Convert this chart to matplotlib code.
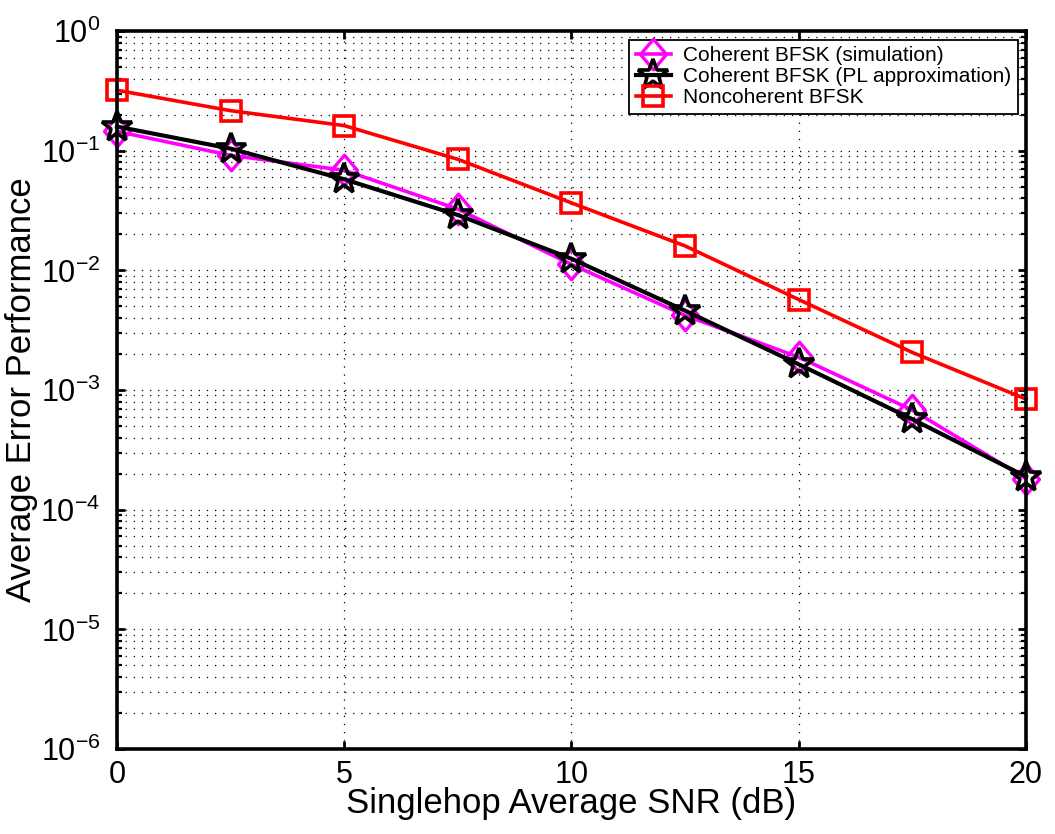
import numpy as np
import matplotlib
matplotlib.use("Agg")
import matplotlib.pyplot as plt
from matplotlib.path import Path
from matplotlib.ticker import FixedLocator, NullFormatter, LogFormatterSciNotation

plt.rcParams["font.family"] = ["Liberation Sans", "DejaVu Sans"]

# data
snr_db = [0, 2.5, 5, 7.5, 10, 12.5, 15, 17.5, 20]
coh_sim = [0.145, 0.0914, 0.0686, 0.0325, 0.0112, 0.0042, 0.00188, 0.00068, 0.000182]
coh_pl = [0.159, 0.104, 0.0577, 0.029, 0.0125, 0.0046, 0.00164, 0.00057, 0.000189]
noncoh = [0.32, 0.216, 0.162, 0.0847, 0.0366, 0.016, 0.0057, 0.00206, 0.00084]

labels = [
    "Coherent BFSK (simulation)",
    "Coherent BFSK (PL approximation)",
    "Noncoherent BFSK",
]
x_ticks = [0, 5, 10, 15, 20]
y_decades = [-6, -5, -4, -3, -2, -1, 0]

# MATLAB-like diamond (a bit taller than wide)
diamond = Path([(0, 1), (0.85, 0), (0, -1), (-0.85, 0), (0, 1)],
               [Path.MOVETO, Path.LINETO, Path.LINETO, Path.LINETO, Path.CLOSEPOLY])

fig = plt.figure(figsize=(10.55, 8.34), dpi=100)
ax = fig.add_axes([0.1109, 0.1019, 0.8616, 0.8609])

ax.semilogy(snr_db, coh_sim, color="#FF00FF", lw=2.6, marker=diamond,
            ms=22, mfc="none", mew=2.4, label=labels[0], zorder=3, clip_on=False)
ax.semilogy(snr_db, coh_pl, color="black", lw=3.0, marker="*",
            ms=23, mfc="none", mew=2.6, label=labels[1], zorder=4, clip_on=False)
ax.semilogy(snr_db, noncoh, color="#FF0000", lw=2.6, marker="s",
            ms=14, mfc="none", mew=2.6, label=labels[2], zorder=3, clip_on=False)

ax.set_xlim(0, 20)
ax.set_ylim(1e-6, 1e0)
ax.set_xticks(x_ticks)
major = [10.0 ** d for d in y_decades]
minor = [m * 10.0 ** d for d in y_decades[:-1] for m in range(2, 10)]
ax.yaxis.set_major_locator(FixedLocator(major))
ax.yaxis.set_major_formatter(LogFormatterSciNotation())
ax.yaxis.set_minor_locator(FixedLocator(minor))
ax.yaxis.set_minor_formatter(NullFormatter())

grid_style = dict(color="black", linestyle=(0, (1, 5.5)), linewidth=0.9)
ax.grid(True, which="major", axis="x", **grid_style)
ax.grid(True, which="both", axis="y", **grid_style)
ax.set_axisbelow(True)

for sp in ax.spines.values():
    sp.set_linewidth(2.6)
    sp.set_zorder(5)
ax.tick_params(which="major", direction="in", length=6, width=2,
               top=True, right=True, labelsize=22)
ax.tick_params(axis="x", which="major", pad=8)
ax.tick_params(axis="y", which="major", pad=12)
ax.tick_params(which="minor", direction="in", length=3.5, width=1.6,
               top=True, right=True)

ax.set_xlabel("Singlehop Average SNR (dB)", fontsize=25, labelpad=-2)
ax.set_ylabel("Average Error Performance", fontsize=25, labelpad=2)

leg = ax.legend(loc="upper right", bbox_to_anchor=(0.991, 0.9875), fontsize=15,
                fancybox=False, framealpha=1, edgecolor="black",
                handlelength=1.7, labelspacing=0.1, borderpad=0.3,
                handletextpad=0.6, borderaxespad=0)
leg.get_frame().set_linewidth(1.3)
leg.set_zorder(6)

fig.savefig("out.png", dpi=100)
